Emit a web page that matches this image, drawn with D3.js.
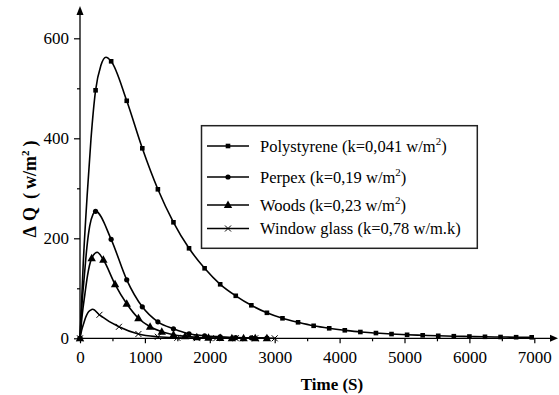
<!DOCTYPE html>
<html>
<head>
<meta charset="utf-8">
<script src="https://cdn.jsdelivr.net/npm/d3@7"></script>
<style>
  body { margin: 0; background: #fff; }
  svg { display: block; }
  svg text { font-family: 'Liberation Serif', serif; }
</style>
</head>
<body>
<svg id="chart" width="559" height="395"></svg>
<script>
// Data: time (s) and Delta Q (w/m2)
// markers are drawn every N-th sample, line passes through extra points too
const polyMarkT = [0, 240, 480, 720, 960, 1200, 1440, 1680, 1920, 2160, 2400, 2640, 2880, 3120, 3360,
                   3600, 3840, 4080, 4320, 4560, 4800, 5040, 5280, 5520, 5760, 6000, 6240, 6480, 6720, 6960];
const polyMarkQ = [0, 496, 554, 475, 380, 298, 232, 180, 140, 108, 85, 66, 51, 40, 32,
                   25, 20, 16, 12.6, 10.5, 8.5, 7, 6, 5, 4.2, 3.6, 3, 2.6, 2.2, 2];
const polyExtraT = [50, 110, 170, 320, 400];
const polyExtraQ = [150, 285, 400, 545, 562];

const perpexMarkT = [0, 240, 480, 720, 960, 1200, 1440, 1680, 1920, 2160, 2400, 2640, 2880];
const perpexMarkQ = [0, 254, 198, 117, 63, 33, 19, 9, 5, 3, 1.5, 1, 0.5];
const perpexExtraT = [31, 69, 106, 150, 200];
const perpexExtraQ = [69, 128, 182, 225, 248];

const woodsMarkT = [0, 180, 360, 540, 720, 900, 1080, 1260, 1440, 1620, 1800, 1980, 2160, 2340, 2520, 2700, 2880];
const woodsMarkQ = [0, 160, 157, 108, 69, 40, 23, 13, 7, 4, 2, 1, 0.5, 0.3, 0.2, 0.1, 0];
const woodsExtraT = [35, 75, 115, 265];
const woodsExtraQ = [48, 88, 125, 172];

const glassMarkT = [0, 300, 600, 900, 1200, 1500, 1800, 2100, 2400, 2700, 3000];
const glassMarkQ = [0, 47, 23, 8.6, 3, 1, 0.4, 0.2, 0.1, 0, 0];
const glassExtraT = [25, 55, 85, 120, 160, 195];
const glassExtraQ = [16, 29, 41, 51, 56, 58];

const legendLabels = ["Polystyrene (k=0,041 w/m", "Perpex (k=0,19 w/m", "Woods (k=0,23 w/m", "Window glass (k=0,78 w/m.k)"];
const legendSup = ["2", "2", "2", ""];
const legendTail = [")", ")", ")", ""];

const xTicks = [0, 1000, 2000, 3000, 4000, 5000, 6000, 7000];
const yTicks = [0, 200, 400, 600];

const FONT = "'Liberation Serif', serif";
const zip = (t, q) => t.map((d, i) => [d, q[i]]);
const series = [
  { name: "poly", marker: "square", marks: zip(polyMarkT, polyMarkQ), extra: zip(polyExtraT, polyExtraQ) },
  { name: "perpex", marker: "circle", marks: zip(perpexMarkT, perpexMarkQ), extra: zip(perpexExtraT, perpexExtraQ) },
  { name: "woods", marker: "triangle", marks: zip(woodsMarkT, woodsMarkQ), extra: zip(woodsExtraT, woodsExtraQ) },
  { name: "glass", marker: "cross", marks: zip(glassMarkT, glassMarkQ), extra: zip(glassExtraT, glassExtraQ) }
];

const svg = d3.select("#chart");
const x = d3.scaleLinear().domain([0, 7000]).range([80, 534.3]);
const y = d3.scaleLinear().domain([0, 600]).range([338.3, 38.3]);

// axes
const xAxis = d3.axisBottom(x).tickValues(xTicks).tickSize(5).tickPadding(8).tickFormat(d3.format("d"));
const xMinor = d3.axisBottom(x).tickValues(d3.range(500, 7500, 1000)).tickSize(3).tickFormat("");
const yAxis = d3.axisLeft(y).tickValues(yTicks).tickSize(6).tickPadding(5).tickFormat(d3.format("d"));
const yMinor = d3.axisLeft(y).tickValues([100, 300, 500]).tickSize(3).tickFormat("");

function styleAxis(g) {
  g.attr("font-family", null).attr("font-size", null);
  g.select(".domain").remove();
  g.selectAll("line").attr("stroke", "#000").attr("stroke-width", 1.2);
  g.selectAll("text").attr("fill", "#000").style("font-size", "17px").style("font-family", FONT);
}
svg.append("g").attr("transform", "translate(0," + y(0) + ")").call(xAxis).call(styleAxis);
svg.append("g").attr("transform", "translate(0," + y(0) + ")").call(xMinor).call(styleAxis);
svg.append("g").attr("transform", "translate(" + x(0) + ",0)").call(yAxis).call(styleAxis);
svg.append("g").attr("transform", "translate(" + x(0) + ",0)").call(yMinor).call(styleAxis);

// axis lines with arrow heads
svg.append("line").attr("x1", x(0)).attr("x2", 553).attr("y1", y(0)).attr("y2", y(0))
  .attr("stroke", "#000").attr("stroke-width", 1.3);
svg.append("path").attr("d", `M558,${y(0)} L550,${y(0) - 3.5} L550,${y(0) + 3.5} Z`).attr("fill", "#000");
svg.append("line").attr("x1", x(0)).attr("x2", x(0)).attr("y1", y(0)).attr("y2", 13)
  .attr("stroke", "#000").attr("stroke-width", 1.3);
svg.append("path").attr("d", `M${x(0)},6 L${x(0) - 3.5},15 L${x(0) + 3.5},15 Z`).attr("fill", "#000");

// axis titles
svg.append("text").attr("x", 332).attr("y", 390).attr("text-anchor", "middle")
  .style("font-family", FONT).style("font-size", "17px").style("font-weight", "bold").text("Time (S)");
const yl = svg.append("text").attr("transform", "translate(36,189) rotate(-90)").attr("text-anchor", "middle")
  .style("font-family", FONT).style("font-size", "18px").style("font-weight", "bold");
yl.append("tspan").text("\u0394");
yl.append("tspan").attr("dx", 5).text("Q");
yl.append("tspan").attr("dx", 8).text("(");
yl.append("tspan").attr("dx", 4).text("w/m");
yl.append("tspan").attr("dy", -7).style("font-size", "11px").text("2");
yl.append("tspan").attr("dy", 7).attr("dx", 4).text(")");

// lines
const line = d3.line().x(d => x(d[0])).y(d => y(d[1])).curve(d3.curveMonotoneX);
series.forEach(s => {
  const pts = s.marks.concat(s.extra).sort((a, b) => a[0] - b[0]);
  svg.append("path").datum(pts).attr("d", line)
    .attr("fill", "none").attr("stroke", "#000").attr("stroke-width", 1.6);
});

// markers
function drawMarker(g, type, cx, cy) {
  if (type === "square") {
    g.append("rect").attr("x", cx - 2.3).attr("y", cy - 2.3).attr("width", 4.6).attr("height", 4.6).attr("fill", "#000");
  } else if (type === "circle") {
    g.append("circle").attr("cx", cx).attr("cy", cy).attr("r", 2.6).attr("fill", "#000");
  } else if (type === "triangle") {
    g.append("path").attr("d", `M${cx},${cy - 4.5} L${cx - 4.2},${cy + 3} L${cx + 4.2},${cy + 3} Z`).attr("fill", "#000");
  } else {
    g.append("path").attr("d", `M${cx - 3},${cy - 3} L${cx + 3},${cy + 3} M${cx - 3},${cy + 3} L${cx + 3},${cy - 3}`)
      .attr("stroke", "#000").attr("stroke-width", 1);
  }
}
series.forEach(s => {
  const g = svg.append("g");
  s.marks.forEach(d => drawMarker(g, s.marker, x(d[0]), y(d[1])));
});

// legend
const lg = svg.append("g");
lg.append("rect").attr("x", 201.5).attr("y", 125.7).attr("width", 275.8).attr("height", 122.6)
  .attr("fill", "#fff").attr("stroke", "#222").attr("stroke-width", 1.5);
const rowY = [146, 177, 205, 228.5];
series.forEach((s, i) => {
  lg.append("line").attr("x1", 207).attr("x2", 249).attr("y1", rowY[i]).attr("y2", rowY[i])
    .attr("stroke", "#000").attr("stroke-width", 1.5);
  drawMarker(lg, s.marker, 228, rowY[i]);
  const t = lg.append("text").attr("x", 260).attr("y", rowY[i] + 5.5)
    .style("font-family", FONT).style("font-size", "16.5px");
  t.append("tspan").text(legendLabels[i]);
  if (legendSup[i]) {
    t.append("tspan").attr("dy", -7).style("font-size", "11px").text(legendSup[i]);
    t.append("tspan").attr("dy", 7).text(legendTail[i]);
  }
});
</script>
</body>
</html>
